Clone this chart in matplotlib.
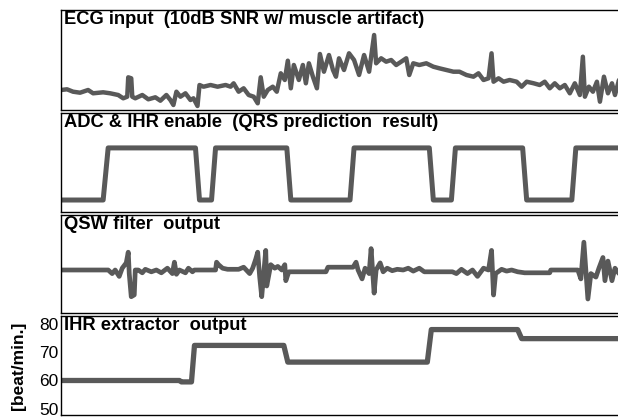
import numpy as np
import matplotlib.pyplot as plt

plt.rcParams['font.family'] = ['Liberation Sans', 'DejaVu Sans']

# time axis in seconds, shared by all four traces
# ECG input, arbitrary amplitude units
ecg_t = [0.00, 0.06, 0.12, 0.19, 0.27, 0.32, 0.42, 0.49, 0.57, 0.62, 0.66, 0.67, 0.70, 0.71,
         0.74, 0.81, 0.87, 0.94, 0.99, 1.05, 1.09, 1.12, 1.15, 1.19, 1.24, 1.29, 1.32, 1.36,
         1.38, 1.42, 1.49, 1.56, 1.64, 1.69, 1.72, 1.77, 1.82, 1.87, 1.92, 1.96, 1.99, 2.02,
         2.06, 2.11, 2.15, 2.19, 2.23, 2.26, 2.29, 2.32, 2.37, 2.41, 2.44, 2.47, 2.51, 2.55,
         2.58, 2.62, 2.67, 2.71, 2.74, 2.77, 2.82, 2.87, 2.92, 2.97, 3.02, 3.07, 3.12, 3.14,
         3.19, 3.24, 3.29, 3.34, 3.39, 3.44, 3.47, 3.51, 3.57, 3.64, 3.71, 3.77, 3.84, 3.91,
         3.97, 4.04, 4.11, 4.16, 4.21, 4.26, 4.29, 4.31, 4.36, 4.41, 4.47, 4.54, 4.59, 4.64,
         4.71, 4.77, 4.82, 4.87, 4.92, 4.97, 5.02, 5.07, 5.12, 5.17, 5.20, 5.22, 5.26, 5.30,
         5.34, 5.37, 5.41, 5.45, 5.49, 5.52, 5.56, 5.57]
ecg_v = [20.0, 20.7, 18.3, 17.3, 20.0, 16.7, 17.7, 16.7, 15.0, 11.7, 13.3, 32.7, 31.7, 13.3,
         11.7, 15.0, 10.7, 12.7, 9.3, 15.0, 10.0, 5.0, 18.3, 13.3, 16.7, 10.0, 11.7, 4.0,
         25.0, 23.3, 25.0, 23.3, 25.0, 23.3, 26.7, 18.3, 21.7, 15.0, 13.3, 6.7, 32.7, 13.3,
         20.0, 23.3, 18.3, 36.7, 30.0, 49.3, 21.7, 45.0, 30.0, 45.0, 26.7, 46.7, 33.3, 21.7,
         56.0, 38.3, 55.0, 40.0, 33.3, 51.7, 40.0, 56.7, 50.0, 35.0, 55.0, 38.3, 75.0, 46.7,
         51.7, 48.3, 50.0, 45.0, 48.3, 51.7, 35.0, 46.7, 45.0, 46.7, 43.3, 41.7, 40.0, 38.3,
         38.3, 35.0, 33.3, 36.7, 30.0, 31.7, 56.7, 28.3, 31.7, 28.3, 30.0, 28.3, 23.3, 28.3,
         26.7, 25.0, 28.3, 21.7, 26.7, 21.7, 25.0, 16.7, 26.7, 15.0, 53.3, 13.3, 23.3, 18.3,
         28.3, 8.3, 33.3, 16.7, 26.7, 15.0, 30.0, 7.0]

# ADC & IHR enable signal (0 = off, 1 = on)
en_t = [0.00, 0.42, 0.47, 1.34, 1.38, 1.50, 1.54, 2.25, 2.29, 2.88, 2.92, 3.67, 3.71,
        3.89, 3.93, 4.60, 4.64, 5.09, 5.13, 5.57]
en_v = [0, 0, 1, 1, 0, 0, 1, 1, 0, 0, 1, 1, 0, 0, 1, 1, 0, 0, 1, 1]

# QSW filter output, arbitrary units
qsw_t = [0.00, 0.47, 0.51, 0.54, 0.58, 0.61, 0.65, 0.67, 0.68, 0.70, 0.73, 0.74, 0.77,
         0.81, 0.84, 0.90, 0.95, 1.00, 1.06, 1.11, 1.13, 1.15, 1.18, 1.24, 1.27, 1.31,
         1.33, 1.54, 1.55, 1.57, 1.61, 1.66, 1.72, 1.77, 1.82, 1.88, 1.91, 1.94, 1.96,
         1.98, 2.00, 2.02, 2.04, 2.05, 2.09, 2.13, 2.16, 2.20, 2.23, 2.24, 2.27, 2.64,
         2.66, 2.91, 2.94, 2.96, 3.00, 3.03, 3.07, 3.09, 3.12, 3.14, 3.18, 3.21, 3.25,
         3.30, 3.35, 3.41, 3.46, 3.51, 3.57, 3.62, 3.90, 3.94, 3.99, 4.05, 4.10, 4.15,
         4.21, 4.26, 4.29, 4.31, 4.33, 4.39, 4.44, 4.49, 4.55, 4.62, 4.87, 4.88, 5.15,
         5.18, 5.21, 5.25, 5.28, 5.33, 5.36, 5.40, 5.42, 5.45, 5.49, 5.52, 5.56]
qsw_v = [0.0, 0.0, -3.6, 0.0, -6.4, 1.8, 7.1, 17.8, -3.6, -26.7, -24.9, 0.0, 0.0,
         -2.8, 0.7, -1.8, 0.0, -2.8, 1.8, -3.6, 7.8, -4.3, 0.0, -2.8, 1.8, -1.8,
         0.0, 0.0, 7.8, 5.3, 1.8, 0.7, 0.7, 0.7, 2.8, -3.6, 1.8, 10.7, 17.8,
         -7.1, -26.7, -3.6, 19.6, -16.0, 5.3, 1.8, 3.6, 0.0, 5.3, -10.7, -1.8, -1.8,
         2.8, 2.8, 7.8, 0.0, -8.9, 1.8, -3.6, 21.4, -23.1, 0.0, 7.1, -1.8, 1.8,
         -0.7, 0.7, 0.0, 1.8, -1.1, 1.8, -1.8, -1.8, -3.6, 0.7, -3.6, 0.0, -6.4,
         1.8, 0.0, 19.6, -25.0, -3.6, 0.7, -1.1, 0.0, -1.8, -2.8, -2.8, 0.0, 0.0,
         -8.9, 27.8, -29.0, -3.6, -7.1, 1.8, 12.5, -10.7, 8.9, -10.7, 1.8, -3.6]

# IHR extractor output [beat/min.]
ihr_t = [0.00, 1.18, 1.20, 1.30, 1.33, 2.22, 2.26, 3.65, 3.69, 4.55, 4.59, 5.57]
ihr_v = [60.0, 60.0, 59.5, 59.5, 72.4, 72.4, 66.5, 66.5, 78.0, 78.0, 74.8, 74.8]

panels = [
    ('ECG input  (10dB SNR w/ muscle artifact)', ecg_t, ecg_v, (0, 100), 10, 110, 3.2),
    ('ADC & IHR enable  (QRS prediction  result)', en_t, en_v, (-0.23, 1.67), 113, 212, 3.6),
    ('QSW filter  output', qsw_t, qsw_v, (-43, 55), 215, 313, 3.4),
    ('IHR extractor  output', ihr_t, ihr_v, (47.8, 82.8), 316, 415, 3.8),
]

W, H = 618, 418
fig = plt.figure(figsize=(W / 100, H / 100), dpi=100)
line_c = '#595959'

for title, t, v, ylim, top, bot, lw in panels:
    ax = fig.add_axes([61 / W, 1 - bot / H, 559 / W, (bot - top) / H])
    ax.plot(t, v, color=line_c, lw=lw, solid_joinstyle='round', solid_capstyle='round')
    ax.set_xlim(0, 5.57)
    ax.set_ylim(*ylim)
    ax.set_xticks([])
    ax.set_yticks([])
    for s in ax.spines.values():
        s.set_linewidth(1.0)
    ax.text(0.006, 0.985, title, transform=ax.transAxes, ha='left', va='top',
            fontsize=13.2, fontweight='bold')

# heart-rate axis
ax.set_yticks([50, 60, 70, 80])
ax.tick_params(axis='y', length=0, pad=2, labelsize=12.5)
ax.set_ylabel('[beat/min.]', fontsize=12.5, fontweight='bold', labelpad=9)

fig.savefig('out.png', dpi=100)
